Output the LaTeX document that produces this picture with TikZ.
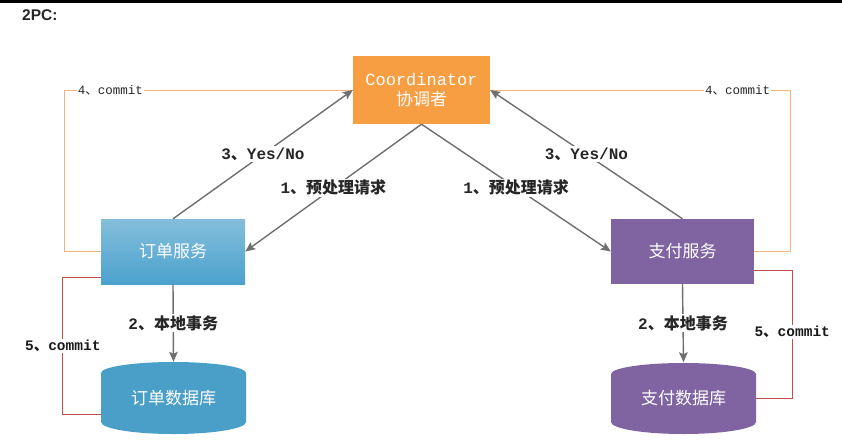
\documentclass[tikz,border=0pt]{standalone}
\usepackage{fontspec}
\setmainfont{Liberation Mono}
\newfontfamily\cjk{Noto Sans CJK SC}
\newfontfamily\titlefont{Liberation Sans}
\usetikzlibrary{arrows.meta}
\definecolor{orangebox}{HTML}{F79D42}
\definecolor{bluetop}{HTML}{84BEDB}
\definecolor{bluebot}{HTML}{4BA2CE}
\definecolor{dbblue}{HTML}{4A9FC9}
\definecolor{purplebox}{HTML}{8064A2}
\definecolor{arrowgrey}{HTML}{6F6F6F}
\definecolor{commitorange}{HTML}{F5B27A}
\definecolor{commitred}{HTML}{C0504D}
\newcommand\dn{{\cjk 、}}
\begin{document}
\begin{tikzpicture}[x=1pt,y=-1pt,
  box/.style={rectangle, inner sep=0pt, text=white, align=center, font=\cjk\fontsize{17}{20}\selectfont},
  flow/.style={draw=arrowgrey, line width=1.4pt, -{Stealth[length=10pt,width=8.5pt,inset=2pt]}},
  lbl/.style={fill=white, inner sep=1.5pt, text=black!85, font=\bfseries\fontsize{16}{18}\selectfont},
  smlbl/.style={fill=white, inner sep=1pt, text=black!85, font=\fontsize{12.5}{14}\selectfont},
  redlbl/.style={fill=white, inner sep=1pt, text=black!90, font=\bfseries\fontsize{14.5}{16}\selectfont},
  orangeln/.style={draw=commitorange, line width=1pt},
  redln/.style={draw=commitred, line width=0.9pt}]
\useasboundingbox (0,0) rectangle (842,442);
\fill[white] (0,0) rectangle (842,442);
\fill[black] (0,0) rectangle (842,2.5);
\node[anchor=base west, inner sep=0pt, text=black!85, font=\titlefont\bfseries\fontsize{15.5}{18}\selectfont] (title) at (22,20) {2PC:};

% boxes
\node[box, fill=orangebox, minimum width=137pt, minimum height=68pt, font=\fontsize{17}{20}\selectfont] (coord) at (421.5,90) {Coordinator\\{\cjk 协调者}};
\node[box, top color=bluetop, bottom color=bluebot, minimum width=144pt, minimum height=65pt] (os) at (173,251.5) {订单服务};
\node[box, fill=purplebox, minimum width=143pt, minimum height=65pt] (ps) at (682.5,251.5) {支付服务};

% cylinders
\fill[dbblue] (101,373) arc[start angle=180,end angle=0,x radius=72.5pt,y radius=11pt] -- (246,422) arc[start angle=0,end angle=-180,x radius=72.5pt,y radius=12pt] -- cycle;
\node[box, minimum width=145pt, minimum height=72pt] (odb) at (173.5,398) {订单数据库};
\fill[purplebox] (611,374) arc[start angle=180,end angle=0,x radius=72.5pt,y radius=11pt] -- (756,422) arc[start angle=0,end angle=-180,x radius=72.5pt,y radius=12pt] -- cycle;
\node[box, minimum width=145pt, minimum height=72pt] (pdb) at (683.5,398.5) {支付数据库};

% commit lines
\draw[orangeln] (os.west) -- ++(-36,0) |- (coord.west) node[smlbl, pos=0.579] {4\dn commit};
\draw[orangeln] (ps.east) -- ++(36,0) |- (coord.east) node[smlbl, pos=0.5875] {4\dn commit};
\draw[redln] ([yshift=-25.5pt]os.west) -- ++(-38,0) |- ([yshift=-16pt]odb.west) node[redlbl, pos=0.252] {5\dn commit};
\draw[redln] ([yshift=-18.5pt]ps.east) -- ++(38,0) |- (pdb.east) node[redlbl, pos=0.242] {5\dn commit};

% flows
\draw[flow] (os.north) -- (coord.west) node[lbl, pos=0.5] {3\dn Yes/No};
\draw[flow] (ps.north) -- (coord.east) node[lbl, pos=0.5] {3\dn Yes/No};
\draw[flow] (coord.south) -- (os.east) node[lbl, pos=0.5] {1\dn{\cjk 预处理请求}};
\draw[flow] (coord.south) -- (ps.west) node[lbl, pos=0.5] {1\dn{\cjk 预处理请求}};
\draw[flow] (os.south) -- (odb.north) node[lbl, pos=0.5] {2\dn{\cjk 本地事务}};
\draw[flow] (ps.south) -- (pdb.north) node[lbl, pos=0.5] {2\dn{\cjk 本地事务}};
\end{tikzpicture}
\end{document}
